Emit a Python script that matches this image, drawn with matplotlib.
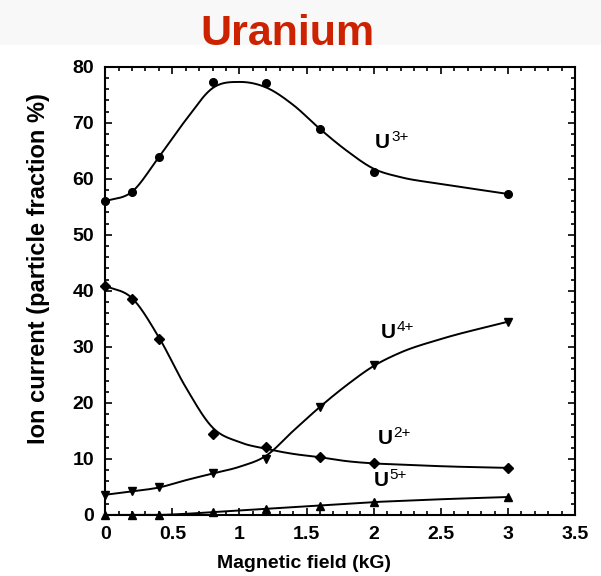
import numpy as np
import matplotlib
matplotlib.use("Agg")
import matplotlib.pyplot as plt
from matplotlib.ticker import MultipleLocator

plt.rcParams["font.family"] = ["Liberation Sans", "DejaVu Sans"]

# magnetic field (kG) and measured particle fractions (%) per charge state
field = [0.0, 0.2, 0.4, 0.8, 1.2, 1.6, 2.0, 3.0]
u3 = [56.1, 57.6, 63.9, 77.3, 77.1, 68.9, 61.3, 57.3]
u2 = [40.9, 38.5, 31.4, 14.5, 12.1, 10.3, 9.2, 8.3]
u4 = [3.6, 4.3, 4.9, 7.4, 9.9, 19.3, 26.8, 34.5]
u5 = [0.0, 0.0, 0.0, 0.5, 1.1, 1.6, 2.4, 3.2]

# hand-drawn guide curves through the data
fit_field = [0.0, 0.2, 0.4, 0.6, 0.8, 1.0, 1.2, 1.4, 1.6, 1.8, 2.0, 2.2, 2.5, 3.0]
u3_fit = [56.0, 57.7, 63.9, 70.5, 76.2, 77.3, 76.3, 73.2, 68.9, 65.0, 61.8, 60.3, 59.1, 57.3]
u2_fit = [40.9, 38.7, 31.7, 22.8, 15.6, 13.0, 11.8, 10.9, 10.3, 9.6, 9.2, 9.0, 8.7, 8.4]
u4_fit = [3.6, 4.2, 4.9, 6.2, 7.4, 8.6, 10.6, 15.0, 19.3, 23.2, 26.6, 29.0, 31.4, 34.5]
u5_fit = [0.0, 0.0, 0.0, 0.2, 0.5, 0.8, 1.1, 1.4, 1.7, 2.0, 2.3, 2.5, 2.8, 3.2]

labels = ["3+", "4+", "2+", "5+"]
label_pos = [(2.01, 66.4), (2.05, 32.5), (2.03, 13.7), (2.0, 6.2)]


def smooth(x, y, n=30):
    # cubic Hermite curve through the knots
    x = np.asarray(x, float)
    y = np.asarray(y, float)
    m = np.gradient(y, x)
    xs, ys = [], []
    for i in range(len(x) - 1):
        h = x[i + 1] - x[i]
        t = np.linspace(0, 1, n, endpoint=False)
        h00 = 2 * t**3 - 3 * t**2 + 1
        h10 = t**3 - 2 * t**2 + t
        h01 = -2 * t**3 + 3 * t**2
        h11 = t**3 - t**2
        xs.append(x[i] + t * h)
        ys.append(h00 * y[i] + h10 * h * m[i] + h01 * y[i + 1] + h11 * h * m[i + 1])
    xs.append([x[-1]])
    ys.append([y[-1]])
    return np.concatenate(xs), np.concatenate(ys)


fig = plt.figure(figsize=(6.01, 5.76), dpi=100)
fig.patches.append(plt.Rectangle((0, 0.922), 1, 0.078, transform=fig.transFigure,
                                 facecolor="#f8f8f8", edgecolor="none", zorder=-1))
ax = fig.add_axes([0.175, 0.106, 0.782, 0.778])

series = [(u3, u3_fit, "o", 5.5), (u2, u2_fit, "D", 5), (u4, u4_fit, "v", 6), (u5, u5_fit, "^", 6)]
for ys, fit, mk, ms in series:
    sx, sy = smooth(fit_field, fit)
    ax.plot(sx, sy, color="black", lw=1.4)
    ax.plot(field, ys, ls="none", marker=mk, ms=ms, color="black", clip_on=False)

for lab, (lx, ly) in zip(labels, label_pos):
    ax.text(lx, ly, "U", fontsize=15, fontweight="bold", va="center", ha="left")
    ax.annotate(lab, (lx, ly), xytext=(11.5, 4), textcoords="offset points",
                fontsize=11, va="center", ha="left")

ax.set_xlim(0, 3.5)
ax.set_ylim(0, 80)
ax.xaxis.set_major_locator(MultipleLocator(0.5))
ax.xaxis.set_minor_locator(MultipleLocator(0.1))
ax.yaxis.set_major_locator(MultipleLocator(10))
ax.yaxis.set_minor_locator(MultipleLocator(2))
ax.set_xticks([0, 0.5, 1, 1.5, 2, 2.5, 3, 3.5], ["0", "0.5", "1", "1.5", "2", "2.5", "3", "3.5"])
ax.tick_params(which="both", direction="in", top=True, right=True, width=1.2)
ax.tick_params(which="major", length=5, labelsize=14, pad=8)
ax.tick_params(which="minor", length=3)
for t in ax.get_xticklabels() + ax.get_yticklabels():
    t.set_fontweight("bold")
for s in ax.spines.values():
    s.set_linewidth(1.5)

ax.set_xlabel("Magnetic field (kG)", fontsize=14, fontweight="bold")
ax.xaxis.set_label_coords(0.423, -0.09)
ax.set_ylabel("Ion current (particle fraction %)", fontsize=17, fontweight="bold")
ax.yaxis.set_label_coords(-0.118, 0.55)

fig.text(0.478, 0.922, "Uranium", color="#cc2200", fontsize=31, fontweight="bold",
         ha="center", va="baseline")

fig.savefig("out.png", dpi=100)
